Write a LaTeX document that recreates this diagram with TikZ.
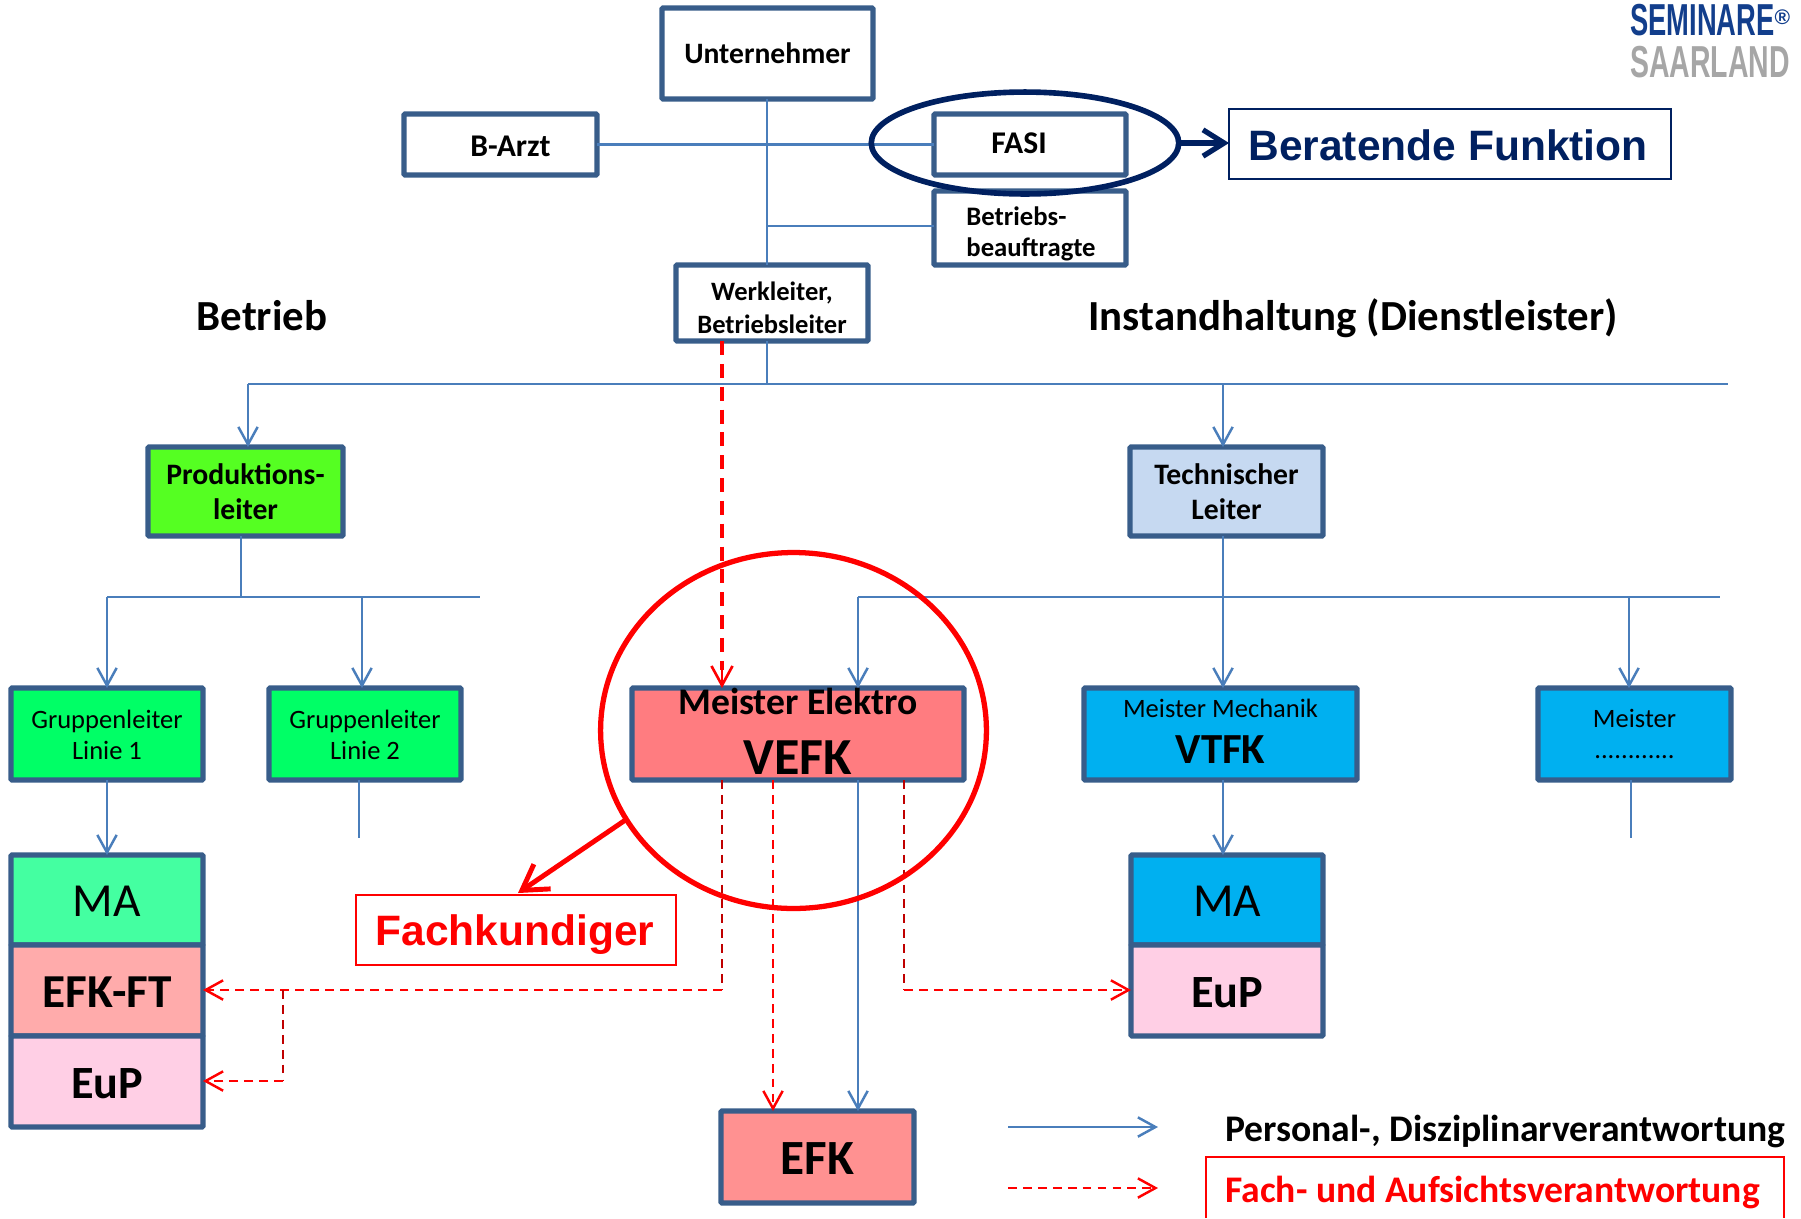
\documentclass[tikz,border=0pt]{standalone}
\usepackage{fontspec}
\setmainfont{Carlito}
\newfontfamily\arialf{Liberation Sans}
\usetikzlibrary{arrows.meta,shapes.geometric}
\definecolor{boxline}{HTML}{385D8A}
\definecolor{linkblue}{HTML}{4A7EBB}
\definecolor{navy}{HTML}{002060}
\definecolor{logoblue}{HTML}{123E8C}
\definecolor{logogray}{HTML}{A6A6A6}
\definecolor{darkred}{HTML}{C00000}
\definecolor{prodgreen}{HTML}{55FF22}
\definecolor{techblue}{HTML}{C6D9F1}
\definecolor{groupgreen}{HTML}{00FF66}
\definecolor{vefkred}{HTML}{FF7C80}
\definecolor{cyanblue}{HTML}{00B0F0}
\definecolor{magreen}{HTML}{44FFA1}
\definecolor{efkft}{HTML}{FFABAB}
\definecolor{eup}{HTML}{FFCFE5}
\definecolor{efkred}{HTML}{FF9191}
\newdimen\pxu \pxu=0.56906pt
% #1 dx, #2 dy (px, down), #3 font size pt, #4 leading pt, #5 column, #6 content
\newcommand\lab[6]{\makebox[0pt]{\hspace*{#1\pxu}\hspace*{#1\pxu}\fontsize{#3}{#4}\selectfont\raisebox{\dimexpr-#2\pxu-0.37em\relax}[0pt][0pt]{\begin{tabular}{@{}#5@{}}#6\end{tabular}}}}
% #1 name, #2 x1, #3 y1, #4 x2, #5 y2, #6 style, #7 text
\newcommand\pbox[7]{%
  \pgfmathsetmacro\bcx{(#2+#4)/2}\pgfmathsetmacro\bcy{(#3+#5)/2}%
  \pgfmathsetmacro\bw{(#4-#2)*0.56906}\pgfmathsetmacro\bh{(#5-#3)*0.56906}%
  \node[#6,minimum width=\bw pt,minimum height=\bh pt] (#1) at (\bcx,\bcy) {#7};}
\tikzset{
  orgbox/.style={draw=boxline,line width=3pt,rounded corners=0.6pt,inner sep=0pt,outer sep=0pt,rectangle},
  thinbox/.style={line width=1.2pt,inner sep=0pt,outer sep=0pt,rectangle},
  linkb/.style={draw=linkblue,line width=1.2pt},
  arrb/.style={linkb,-{Straight Barb[length=10pt,width=11pt,line width=1.4pt]}},
  dashr/.style={draw=red,line width=1.4pt,dash pattern=on 5pt off 3.5pt},
  dashd/.style={draw=darkred,line width=1.4pt,dash pattern=on 5pt off 3.5pt},
  arrr/.style={dashr,-{Straight Barb[length=10pt,width=11pt,line width=1.4pt,red]}},
  headline/.style={inner sep=0pt,anchor=base,font=\bfseries\fontsize{24.4}{28}\selectfont},
}
\begin{document}
\begin{tikzpicture}[x=0.02cm,y=-0.02cm]
\useasboundingbox (0,0) rectangle (1801,1218);
% connectors (behind boxes)
\coordinate (busL) at (248,384);
\coordinate (busR) at (1728,384);
\coordinate (busT) at (1223,384);
\coordinate (trunk) at (767,384);
\coordinate (bfj) at (767,226);
\coordinate (g1) at (107,597);
\coordinate (g2) at (362,597);
\coordinate (gE) at (480,597);
\coordinate (gJ) at (241,597);
\coordinate (mE) at (858,597);
\coordinate (mR) at (1720,597);
\coordinate (mM) at (1223,597);
\coordinate (mX) at (1629,597);
\coordinate (g2end) at (359,838);
\coordinate (mxend) at (1631,838);
\coordinate (w1) at (722,990);
\coordinate (w2) at (283,990);
\coordinate (w3) at (283,1081);
\coordinate (e1) at (904,990);
\coordinate (r2) at (773,780);
\coordinate (r3) at (722,780);
\coordinate (r4) at (904,780);
\coordinate (fkin) at (518,893);

% boxes
\pbox{unt}{662}{8}{873}{99}{orgbox,fill=white}{\lab{0}{0}{16.85}{19}{c}{\bfseries Unternehmer}}
\pbox{barzt}{404}{114}{597}{175}{orgbox,fill=white}{\lab{10}{1}{18}{21}{c}{\bfseries B-Arzt}}
\pbox{fasi}{934}{114}{1126}{175}{orgbox,fill=white}{\lab{-11}{-2}{18}{21}{c}{\bfseries FASI}}
\pbox{beauf}{934}{191}{1126}{265}{orgbox,fill=white}{\lab{1}{3}{15.2}{17.6}{l}{\bfseries Betriebs-\\\bfseries beauftragte}}
\pbox{werk}{676}{265}{868}{341}{orgbox,fill=white}{\lab{0}{4}{15.1}{18.6}{c}{\bfseries Werkleiter,\\\bfseries Betriebsleiter}}
\pbox{prod}{148}{447}{343}{536}{orgbox,fill=prodgreen}{\lab{0}{0}{16.9}{19.6}{c}{\bfseries Produktions-\\\bfseries leiter}}
\pbox{tech}{1130}{447}{1323}{536}{orgbox,fill=techblue}{\lab{0}{0}{16.9}{19.6}{c}{\bfseries Technischer\\\bfseries Leiter}}
\pbox{gl1}{11}{688}{203}{780}{orgbox,fill=groupgreen}{\lab{0}{0}{15.1}{18}{c}{Gruppenleiter\\Linie 1}}
\pbox{gl2}{269}{688}{461}{780}{orgbox,fill=groupgreen}{\lab{0}{0}{15.1}{18}{c}{Gruppenleiter\\Linie 2}}
\pbox{vefk}{632}{688}{964}{780}{orgbox,fill=vefkred}{\lab{0}{-7}{25}{34}{c}{\fontsize{21.4}{24}\selectfont\bfseries Meister Elektro\\\fontsize{29.6}{32}\selectfont\bfseries VEFK}}
\pbox{vtfk}{1084}{688}{1357}{780}{orgbox,fill=cyanblue}{\lab{0}{-8}{25}{26}{c}{\fontsize{15.1}{17}\selectfont Meister Mechanik\\\fontsize{24.4}{27}\selectfont\bfseries VTFK}}
\pbox{mstr}{1538}{688}{1731}{780}{orgbox,fill=cyanblue}{\lab{0}{-1}{15.1}{18}{c}{Meister\\............}}
\pbox{ma1}{11}{855}{203}{945}{orgbox,fill=magreen}{\lab{0}{-1}{27}{30}{c}{MA}}
\pbox{ft}{11}{945}{203}{1036}{orgbox,fill=efkft}{\lab{0}{0}{26.9}{30}{c}{\bfseries EFK-FT}}
\pbox{eup1}{11}{1036}{203}{1127}{orgbox,fill=eup}{\lab{0}{0}{26.3}{30}{c}{\bfseries EuP}}
\pbox{ma2}{1131}{855}{1323}{945}{orgbox,fill=cyanblue}{\lab{0}{-1}{27}{30}{c}{MA}}
\pbox{eup2}{1131}{945}{1323}{1036}{orgbox,fill=eup}{\lab{0}{0}{26.3}{30}{c}{\bfseries EuP}}
\pbox{efk}{721}{1111}{914}{1203}{orgbox,fill=efkred}{\lab{0}{0}{28}{30}{c}{\bfseries EFK}}
\pbox{fk}{356}{895}{676}{965}{thinbox,draw=red}{\lab{-1}{1}{24.2}{28}{c}{\arialf\bfseries\color{red}Fachkundiger}}
\pbox{ber}{1229}{109}{1671}{179}{thinbox,draw=navy}{\lab{-2}{2}{24.2}{28}{c}{\arialf\bfseries\color{navy}Beratende Funktion}}

% blue links
\draw[linkb] (unt.south -| trunk) -- (trunk |- werk.north);
\draw[linkb] (barzt.east) -- (fasi.west);
\draw[linkb] (bfj) -- (bfj -| beauf.west);
\draw[linkb] (trunk |- werk.south) -- (trunk);
\draw[linkb] (busL) -- (busR);
\draw[arrb] (busL) -- (busL |- prod.north);
\draw[arrb] (busT) -- (busT |- tech.north);
\draw[linkb] (gJ |- prod.south) -- (gJ);
\draw[linkb] (g1) -- (gE);
\draw[arrb] (g1) -- (g1 |- gl1.north);
\draw[arrb] (g2) -- (g2 |- gl2.north);
\draw[arrb] (mM |- tech.south) -- (mM |- vtfk.north);
\draw[linkb] (mE) -- (mR);
\draw[arrb] (mE) -- (mE |- vefk.north);
\draw[arrb] (mX) -- (mX |- mstr.north);
\draw[arrb] (g1 |- gl1.south) -- (g1 |- ma1.north);
\draw[linkb] (g2end |- gl2.south) -- (g2end);
\draw[linkb] (mxend |- mstr.south) -- (mxend);
\draw[arrb] (busT |- vtfk.south) -- (busT |- ma2.north);
\draw[arrb] (mE |- vefk.south) -- (mE |- efk.north);

% red links
\draw[red,line width=2.3pt,dash pattern=on 8pt off 5pt] (r3 |- werk.south) -- ([yshift=10pt]r3 |- vefk.north);
\draw[red,line width=1.5pt,-{Straight Barb[length=11pt,width=12pt,line width=1.5pt]}] ([yshift=12pt]r3 |- vefk.north) -- (r3 |- vefk.north);
\draw[dashd] (r3) -- (w1);
\draw[arrr] (w1) -- (w1 -| ft.east);
\draw[dashd] (w2) -- (w3);
\draw[arrr] (w3) -- (w3 -| eup1.east);
\draw[arrr] (r2) -- (r2 |- efk.north);
\draw[dashd] (r4) -- (e1);
\draw[arrr] (e1) -- (e1 -| eup2.west);

% highlight outlines
\node[ellipse,draw=navy,line width=3.2pt,minimum width=175pt,minimum height=58pt,inner sep=0pt,outer sep=0pt] (ell) at (1025,143) {};
\draw[navy,line width=3.4pt,-{Straight Barb[length=12pt,width=15pt,line width=3pt]}] (ell.east) -- (ber.west |- ell.east);
\node[ellipse,draw=red,line width=3pt,minimum width=219.6pt,minimum height=202.6pt,inner sep=0pt,outer sep=0pt] (circ) at (793.5,730.5) {};
\draw[red,line width=2.8pt,-{Straight Barb[length=14pt,width=17pt,line width=2.8pt]}] (circ.208.6) -- (fkin);

% headings
\node[headline] (hbet) at (262,330) {Betrieb};
\node[headline] (hins) at (1353,330) {Instandhaltung (Dienstleister)};

% legend
\coordinate (lb1) at (1008,1127);
\coordinate (lb2) at (1158,1127);
\coordinate (lr1) at (1008,1188);
\coordinate (lr2) at (1158,1188);
\draw[arrb] (lb1) -- (lb2);
\draw[arrr] (lr1) -- (lr2);
\node[anchor=west,inner sep=0pt,font=\bfseries\fontsize{21.4}{25}\selectfont] (lt1) at (1225,1131) {Personal-, Disziplinarverantwortung};
\node[anchor=west,inner sep=0pt,text=red,font=\bfseries\fontsize{21.4}{25}\selectfont] (lt2) at (1225,1192) {Fach- und Aufsichtsverantwortung};
\draw[red,line width=1.2pt] (1206,1218) -- (1206,1157) -- (1784,1157) -- (1784,1218);

% logo
\node[inner sep=0pt,anchor=west,text=logoblue,font=\arialf\bfseries\fontsize{25.5}{28}\selectfont] (logo1) at (1630,20) {\scalebox{0.61}[1]{SEMINARE}\raisebox{6.5pt}{\fontsize{12}{13}\selectfont\textregistered}};
\node[inner sep=0pt,anchor=west,text=logogray,font=\arialf\bfseries\fontsize{25.5}{28}\selectfont] (logo2) at (1630,62) {\scalebox{0.635}[1]{SAARLAND}};
\end{tikzpicture}
\end{document}
